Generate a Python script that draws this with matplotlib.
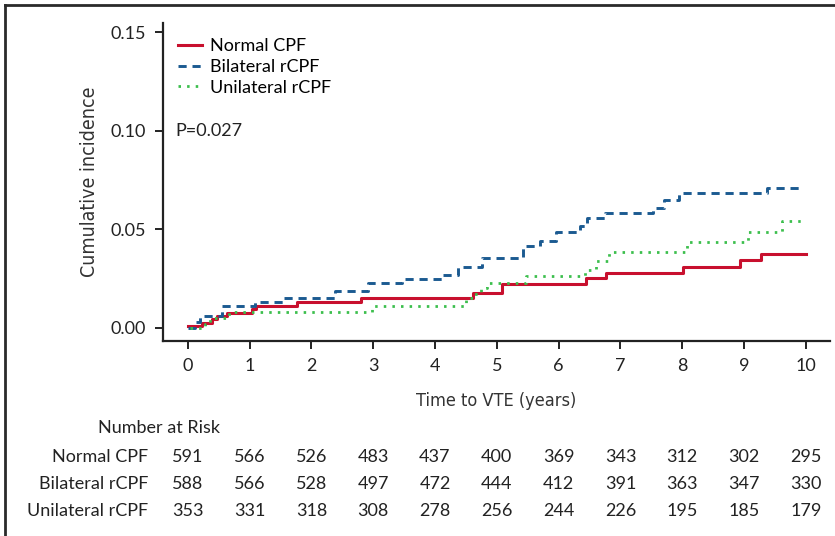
import matplotlib
matplotlib.use("Agg")
import matplotlib.pyplot as plt
from matplotlib.transforms import blended_transform_factory
from matplotlib.lines import Line2D

plt.rcParams['font.family'] = ['Lato', 'DejaVu Sans']

# cumulative incidence step curves
normal_t = [0, 0.23, 0.39, 0.47, 0.63, 1.04, 1.10, 1.76, 2.80, 4.62, 5.08, 6.45, 6.77, 8.02, 8.93, 9.27, 10.0]
normal_y = [0.001, 0.0027, 0.0044, 0.006, 0.0078, 0.0095, 0.0113, 0.0134, 0.0151, 0.0176, 0.0223, 0.0252, 0.0281, 0.0311, 0.0345, 0.0377, 0.0377]

bilat_t = [0, 0.12, 0.20, 0.55, 1.09, 1.54, 2.38, 2.91, 3.46, 4.11, 4.38, 4.76, 5.43, 5.70, 5.95,
           6.35, 6.46, 6.75, 7.53, 7.70, 7.94, 9.37, 9.95]
bilat_y = [0.0, 0.0032, 0.0061, 0.0112, 0.0134, 0.0151, 0.019, 0.0227, 0.0247, 0.0269, 0.0308, 0.0353, 0.0416, 0.0442, 0.0489,
           0.0518, 0.0557, 0.0582, 0.0607, 0.065, 0.0684, 0.0709, 0.0709]

unilat_t = [0.04, 0.28, 0.36, 0.66, 2.98, 4.50, 4.62, 4.74, 4.84, 5.48, 6.43, 6.60, 6.81, 8.07, 9.07, 9.61, 9.93]
unilat_y = [0.0, 0.002, 0.0049, 0.0083, 0.0113, 0.0151, 0.0175, 0.0201, 0.0227, 0.0264, 0.0294, 0.034, 0.0387, 0.0438, 0.0489, 0.0545, 0.0545]

groups = ['Normal CPF', 'Bilateral rCPF', 'Unilateral rCPF']
years = list(range(11))
at_risk_normal = [591, 566, 526, 483, 437, 400, 369, 343, 312, 302, 295]
at_risk_bilat = [588, 566, 528, 497, 472, 444, 412, 391, 363, 347, 330]
at_risk_unilat = [353, 331, 318, 308, 278, 256, 244, 226, 195, 185, 179]

red = '#C8102E'
blue = '#1B5A91'
green = '#3CBF4D'

fig = plt.figure(figsize=(8.35, 5.36), dpi=100)
ax = fig.add_axes([163/835, 1 - 341/536, (830 - 163)/835, (341 - 23)/536])

ax.step(normal_t, normal_y, where='post', color=red, lw=2.2, label=groups[0])
ax.step(bilat_t, bilat_y, where='post', color=blue, lw=2.1, dashes=(2.8, 2.0), label=groups[1])
ax.step(unilat_t, unilat_y, where='post', color=green, lw=2.0, dashes=(0.9, 2.2), label=groups[2])

ax.set_xlim(-0.40, 10.39)
ax.set_ylim(-0.0066, 0.1548)
ax.set_xticks(years)
ax.set_yticks([0.0, 0.05, 0.10, 0.15])
ax.set_yticklabels(['0.00', '0.05', '0.10', '0.15'])
for s in ['top', 'right']:
    ax.spines[s].set_visible(False)
for s in ['left', 'bottom']:
    ax.spines[s].set_linewidth(1.6)
    ax.spines[s].set_color('#222222')
ax.tick_params(direction='out', length=6, width=1.4, colors='#222222', labelsize=13, pad=6)

ax.set_xlabel('Time to VTE (years)', fontsize=13, family='DejaVu Sans', fontstretch='condensed',
              color='#333333', labelpad=13.5)
ax.set_ylabel('Cumulative incidence', fontsize=14, family='DejaVu Sans', fontstretch='condensed',
              color='#333333', labelpad=8.5)

ax.text(-0.2, 0.10, 'P=0.027', fontsize=13, va='center', ha='left', color='#222222')

ax.legend(loc='upper left', bbox_to_anchor=(0.022, 0.953), frameon=False, fontsize=13,
          handlelength=1.35, handletextpad=0.45, labelspacing=0.27, borderpad=0, borderaxespad=0)

# number at risk table
tr = blended_transform_factory(ax.transData, fig.transFigure)
fig.text(98/835, 1 - 428/536, 'Number at Risk', fontsize=13, va='center', ha='left', color='#222222')
rows_y = [1 - 457/536, 1 - 484/536, 1 - 511/536]
for name, counts, yy in zip(groups, [at_risk_normal, at_risk_bilat, at_risk_unilat], rows_y):
    fig.text(148/835, yy, name, fontsize=13, va='center', ha='right', color='#222222')
    for x, n in zip(years, counts):
        ax.text(x, yy, str(n), transform=tr, fontsize=13, va='center', ha='center', color='#222222', clip_on=False)

# frame lines at top and left edge
fig.add_artist(Line2D([5/835, 1], [1 - 5/536, 1 - 5/536], transform=fig.transFigure, color='#2a2a2a', lw=2))
fig.add_artist(Line2D([5/835, 5/835], [0, 1 - 5/536], transform=fig.transFigure, color='#2a2a2a', lw=2))

fig.savefig('out.png', dpi=100)
